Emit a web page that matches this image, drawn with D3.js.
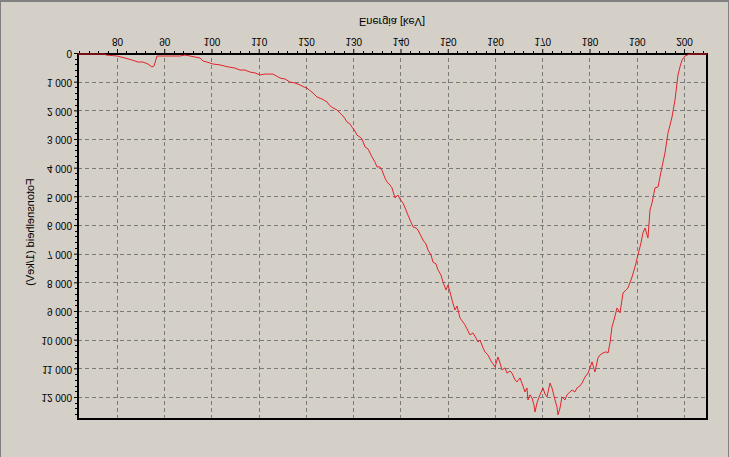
<!DOCTYPE html>
<html><head><meta charset="utf-8">
<script src="https://cdn.jsdelivr.net/npm/d3@7"></script>
<style>
html,body{margin:0;padding:0;background:#D4D0C8;}
svg{display:block;}
text{font-family:"Liberation Sans",Arial,sans-serif;fill:#000;}
</style></head>
<body>
<svg id="c" width="729" height="457"></svg>
<script>
const energy = [71.75,77.25,77.67,80.0,81.69,83.17,84.44,85.50,86.56,87.41,87.83,88.47,90.16,93.33,94.39,96.51,97.57,98.20,99.05,100.32,101.80,103.49,104.97,106.03,107.09,108.15,109.21,110.26,111.32,113.02,114.50,115.56,116.61,117.67,118.73,119.58,120.21,121.27,122.33,123.39,124.44,125.08,125.71,126.56,127.20,128.04,128.68,129.31,129.74,130.37,130.79,131.43,131.85,132.49,133.12,133.97,134.60,135.03,135.66,136.08,136.72,137.14,137.78,138.20,138.84,139.47,139.89,140.53,141.16,141.59,142.22,142.65,143.28,143.70,144.34,144.76,145.40,145.82,146.46,146.88,147.51,147.94,148.57,149.00,149.63,150.05,150.48,150.90,151.53,151.96,152.59,153.23,153.65,154.29,154.71,155.34,155.98,156.40,156.83,157.46,157.88,158.52,159.15,159.58,160.00,160.63,161.06,161.48,162.12,162.54,163.17,163.60,164.23,164.66,165.29,165.71,166.35,166.77,166.98,167.41,167.83,168.25,168.47,168.89,169.10,169.52,170.16,170.58,171.01,171.64,172.06,172.28,172.70,173.12,173.33,173.76,174.18,174.81,175.24,175.87,176.30,176.93,177.35,177.99,178.41,179.05,179.68,180.11,180.53,181.16,181.80,182.22,182.86,183.49,183.92,184.34,184.76,185.19,185.82,186.46,187.09,187.72,188.15,189.00,189.63,190.26,190.90,191.32,191.75,192.38,192.80,193.23,193.86,194.50,194.92,195.34,195.98,196.61,197.04,197.46,198.10,198.73,199.15,199.58,200.21,201.27,204.87];
const counts = [0,0,35,70,140,210,280,280,350,450,420,70,70,70,35,105,140,245,280,350,380,450,490,560,560,630,660,730,700,700,840,870,980,1010,1080,1150,1190,1330,1500,1570,1670,1810,1880,1950,2060,2200,2370,2440,2550,2690,2830,2900,2960,3240,3310,3590,3770,3940,3940,4050,4330,4460,4570,4670,5020,4920,5060,5200,5440,5620,5860,6030,6070,6140,6350,6490,6630,6840,7010,7260,7320,7530,7710,7950,8230,8060,8300,8580,8930,8790,9210,9350,9450,9660,9800,9730,9910,10050,9980,10250,10390,10500,10710,10810,10920,10570,10780,11020,10950,11130,11060,11130,11370,11440,11300,11480,11790,11650,12070,11890,12000,12240,12490,12170,12070,11890,11650,11860,11960,11480,11650,11790,12070,12310,12590,12350,11960,12070,11890,11790,11720,11790,11650,11580,11480,11270,11130,10950,10740,11090,10600,10500,10430,10390,10430,10080,9520,9280,8860,9030,8340,8230,8160,7780,7430,7010,6590,6240,6070,6420,5440,5200,4670,4640,4290,3940,3450,2760,2480,2200,1600,730,450,210,70,0,0];
const xTicks = [80,90,100,110,120,130,140,150,160,170,180,190,200];
const yTicks = [0,1000,2000,3000,4000,5000,6000,7000,8000,9000,10000,11000,12000];
const xDomain = [71.75, 204.87];
const yDomain = [0, 12733];
const xTitle = "Energia [keV]";
const yTitle = "Fotonsnelheid (1/keV)";

const W = 729, H = 457;
const svg = d3.select("#c");
// outer frame
svg.append("rect").attr("x",0).attr("y",0).attr("width",W).attr("height",2).attr("fill","#808080");
svg.append("rect").attr("x",0).attr("y",0).attr("width",1).attr("height",H).attr("fill","#808080");
svg.append("rect").attr("x",W-1).attr("y",0).attr("width",1).attr("height",H).attr("fill","#808080");

// whole chart drawn mirrored top-to-bottom, as in the reference
const g = svg.append("g").attr("transform",`translate(0,${H}) scale(1,-1)`);
const L = 78, R = 707, T = 38, B = 403;
const x = d3.scaleLinear().domain(xDomain).range([L, R]);
const y = d3.scaleLinear().domain(yDomain).range([B, T]);

// grid
g.append("g").selectAll("line").data(xTicks).join("line")
  .attr("x1",d=>Math.round(x(d))+0.5).attr("x2",d=>Math.round(x(d))+0.5)
  .attr("y1",T).attr("y2",B).attr("stroke","#7a7a7a").attr("stroke-dasharray","4,3");
g.append("g").selectAll("line").data(yTicks.slice(1)).join("line")
  .attr("y1",d=>Math.round(y(d))+0.5).attr("y2",d=>Math.round(y(d))+0.5)
  .attr("x1",L).attr("x2",R).attr("stroke","#7a7a7a").attr("stroke-dasharray","4,3");

// minor ticks
const xMinor = d3.range(72, 205, 2).filter(v => v % 10 !== 0);
const yMinor = d3.range(200, 12733, 200).filter(v => v % 1000 !== 0);
g.append("g").selectAll("line").data(xMinor).join("line")
  .attr("x1",d=>Math.round(x(d))+0.5).attr("x2",d=>Math.round(x(d))+0.5)
  .attr("y1",B).attr("y2",B+3).attr("stroke","#000");
g.append("g").selectAll("line").data(yMinor).join("line")
  .attr("y1",d=>Math.round(y(d))+0.5).attr("y2",d=>Math.round(y(d))+0.5)
  .attr("x1",L-3).attr("x2",L).attr("stroke","#000");

// axes
const fmt = d => d3.format(",")(d).replace(/,/g," ");
const xAxis = g.append("g").attr("transform",`translate(0,${B})`)
  .call(d3.axisBottom(x).tickValues(xTicks).tickSize(5).tickPadding(4).tickFormat(d3.format("d")));
const yAxis = g.append("g").attr("transform",`translate(${L},0)`)
  .call(d3.axisLeft(y).tickValues(yTicks).tickSize(4).tickPadding(2).tickFormat(fmt));
[xAxis, yAxis].forEach(a => {
  a.select(".domain").remove();
  a.selectAll("line").attr("stroke","#000");
  a.selectAll("text").attr("font-size","10px").attr("font-family","Liberation Sans, Arial, sans-serif");
});

// plot border
g.append("rect").attr("x",L).attr("y",T).attr("width",R-L).attr("height",B-T)
  .attr("fill","none").attr("stroke","#000").attr("stroke-width",2);

// data line
const pts = energy.map((e,i)=>[e, counts[i]]);
g.append("path").datum(pts)
  .attr("d", d3.line().x(d=>x(d[0])).y(d=>y(d[1])))
  .attr("fill","none").attr("stroke","#e3232b").attr("stroke-width",1);

// titles
g.append("text").attr("x",392).attr("y",439).attr("text-anchor","middle")
  .attr("font-size","11px").text(xTitle);
g.append("text").attr("transform","translate(34,225) rotate(-90)").attr("text-anchor","middle")
  .attr("font-size","11px").text(yTitle);
</script>
</body></html>
